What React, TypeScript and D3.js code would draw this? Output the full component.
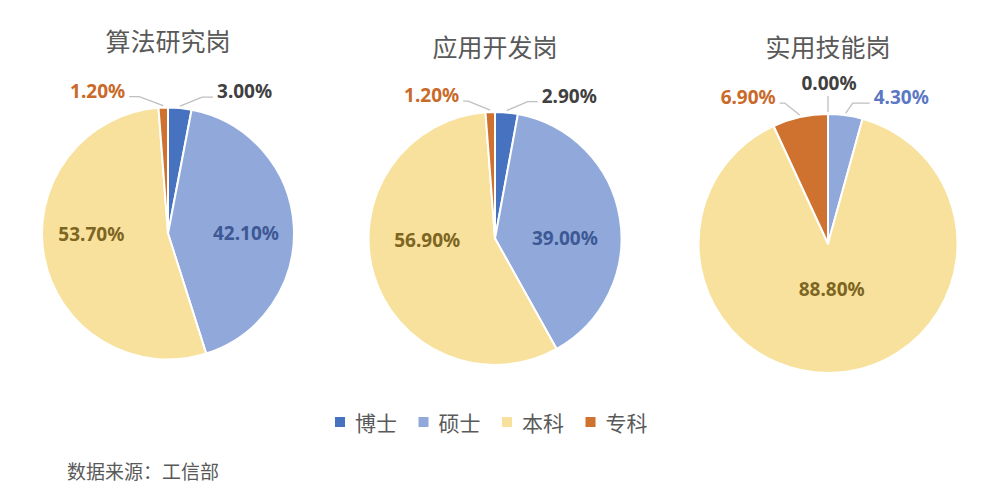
import React, { useEffect, useRef } from 'react';
import * as d3 from 'd3';

// education level categories (legend order = slice order)
const categories = ['博士', '硕士', '本科', '专科'];
const jobTitles = ['算法研究岗', '应用开发岗', '实用技能岗'];
const algoValues = [3.0, 42.1, 53.7, 1.2];
const devValues = [2.9, 39.0, 56.9, 1.2];
const skillValues = [0.0, 4.3, 88.8, 6.9];
const sourceNote = '数据来源：工信部';

const sliceColors = ['#4672c0', '#90a9da', '#f8e19c', '#d0722f'];
const insideLabelColors = ['#404040', '#3d5894', '#7d6522', '#b5601f'];
const outsideLabelColors = ['#404040', '#5c78c4', '#7d6522', '#c96a2a'];

const FONT = '"Noto Sans CJK SC", "Noto Sans", sans-serif';
const NUM_FONT = '"Noto Sans", "Noto Sans CJK SC", sans-serif';

// layout of each pie (labelSquash flattens the inside label ring vertically)
const pieLayout = [
  { cx: 168, cy: 233.5, r: 126, titleY: 40, labelFactor: 0.62, labelSquash: 0.05 },
  { cx: 495, cy: 238.5, r: 126.5, titleY: 46, labelFactor: 0.56, labelSquash: 0.05 },
  { cx: 828, cy: 243.5, r: 129.5, titleY: 46, labelFactor: 0.35, labelSquash: 1 },
];

// leader line callouts for small slices: dir 1 right, -1 left, 0 straight up
type Callout = { dir: number; dx: number; dy: number; h: number };
const callouts: Record<number, Callout>[] = [
  { 0: { dir: 1, dx: 22, dy: 9, h: 11 }, 3: { dir: -1, dx: 24, dy: 9, h: 10 } },
  { 0: { dir: 1, dx: 21, dy: 9, h: 10 }, 3: { dir: -1, dx: 22, dy: 9, h: 5 } },
  {
    0: { dir: 0, dx: 0, dy: 16, h: 0 },
    1: { dir: 1, dx: 7, dy: 10, h: 17 },
    3: { dir: -1, dx: 15, dy: 12, h: 5 },
  },
];

export default function App() {
  const svgRef = useRef<SVGSVGElement>(null);

  useEffect(() => {
    document.body.style.margin = '0';
    if (!svgRef.current) return;
    const svg = d3.select(svgRef.current);
    svg.selectAll('*').remove();

    const width = 1000;
    const height = 496;
    svg.attr('width', width).attr('height', height);

    svg.append('rect').attr('width', width).attr('height', height).attr('fill', '#ffffff');

    const seriesList = [algoValues, devValues, skillValues];
    const pie = d3.pie<number>().sort(null).value(d => d);

    seriesList.forEach((values, pi) => {
      const lay = pieLayout[pi];
      const g = svg.append('g').attr('transform', `translate(${lay.cx},${lay.cy})`);

      // title
      svg.append('text')
        .attr('x', lay.cx)
        .attr('y', lay.titleY)
        .attr('text-anchor', 'middle')
        .attr('dominant-baseline', 'central')
        .attr('font-family', FONT)
        .attr('font-size', 25)
        .attr('fill', '#595959')
        .text(jobTitles[pi]);

      const arcs = pie(values);
      const arc = d3.arc<d3.PieArcDatum<number>>().innerRadius(0).outerRadius(lay.r);
      const labelArc = d3.arc<d3.PieArcDatum<number>>()
        .innerRadius(lay.r * lay.labelFactor)
        .outerRadius(lay.r * lay.labelFactor);

      g.selectAll('path.slice')
        .data(arcs)
        .enter()
        .append('path')
        .attr('class', 'slice')
        .attr('d', arc)
        .attr('fill', (_, i) => sliceColors[i])
        .attr('stroke', '#ffffff')
        .attr('stroke-width', 2)
        .attr('stroke-linejoin', 'round');

      arcs.forEach((a, i) => {
        const label = `${a.data.toFixed(2)}%`;
        const co = callouts[pi][i];
        if (!co) {
          const [lx, ly] = labelArc.centroid(a);
          g.append('text')
            .attr('x', lx)
            .attr('y', ly * lay.labelSquash)
            .attr('text-anchor', 'middle')
            .attr('dominant-baseline', 'central')
            .attr('font-family', NUM_FONT)
            .attr('font-weight', 'bold')
            .attr('font-size', 19)
            .attr('fill', insideLabelColors[i])
            .text(label);
          return;
        }
        const mid = (a.startAngle + a.endAngle) / 2;
        const rr = lay.r + 2;
        const p0: [number, number] = [rr * Math.sin(mid), -rr * Math.cos(mid)];
        const p1: [number, number] = [p0[0] + co.dir * co.dx, p0[1] - co.dy];
        const p2: [number, number] = [p1[0] + co.dir * co.h, p1[1]];
        g.append('path')
          .attr('d', d3.line()([p0, p1, p2]))
          .attr('fill', 'none')
          .attr('stroke', '#bfbfbf')
          .attr('stroke-width', 1.3);

        const t = g.append('text')
          .attr('dominant-baseline', 'central')
          .attr('font-family', NUM_FONT)
          .attr('font-weight', 'bold')
          .attr('font-size', 19)
          .attr('fill', outsideLabelColors[i])
          .text(label);
        if (co.dir === 0) {
          t.attr('x', p2[0] + 1).attr('y', p2[1] - 13).attr('text-anchor', 'middle');
        } else {
          t.attr('x', p2[0] + co.dir * 4)
            .attr('y', p2[1] - 6)
            .attr('text-anchor', co.dir > 0 ? 'start' : 'end');
        }
      });
    });

    // legend
    const legend = svg.append('g').attr('transform', 'translate(335,422)');
    categories.forEach((c, i) => {
      const item = legend.append('g').attr('transform', `translate(${i * 83.5},0)`);
      item.append('rect')
        .attr('x', 0)
        .attr('y', -5)
        .attr('width', 10)
        .attr('height', 10)
        .attr('fill', sliceColors[i]);
      item.append('text')
        .attr('x', 20)
        .attr('y', 0)
        .attr('dominant-baseline', 'central')
        .attr('font-family', FONT)
        .attr('font-size', 21)
        .attr('fill', '#595959')
        .text(c);
    });

    // source note
    svg.append('text')
      .attr('x', 67)
      .attr('y', 470)
      .attr('dominant-baseline', 'central')
      .attr('font-family', FONT)
      .attr('font-size', 19)
      .attr('fill', '#595959')
      .text(sourceNote);
  }, []);

  return <svg ref={svgRef} style={{ display: 'block' }}></svg>;
}
